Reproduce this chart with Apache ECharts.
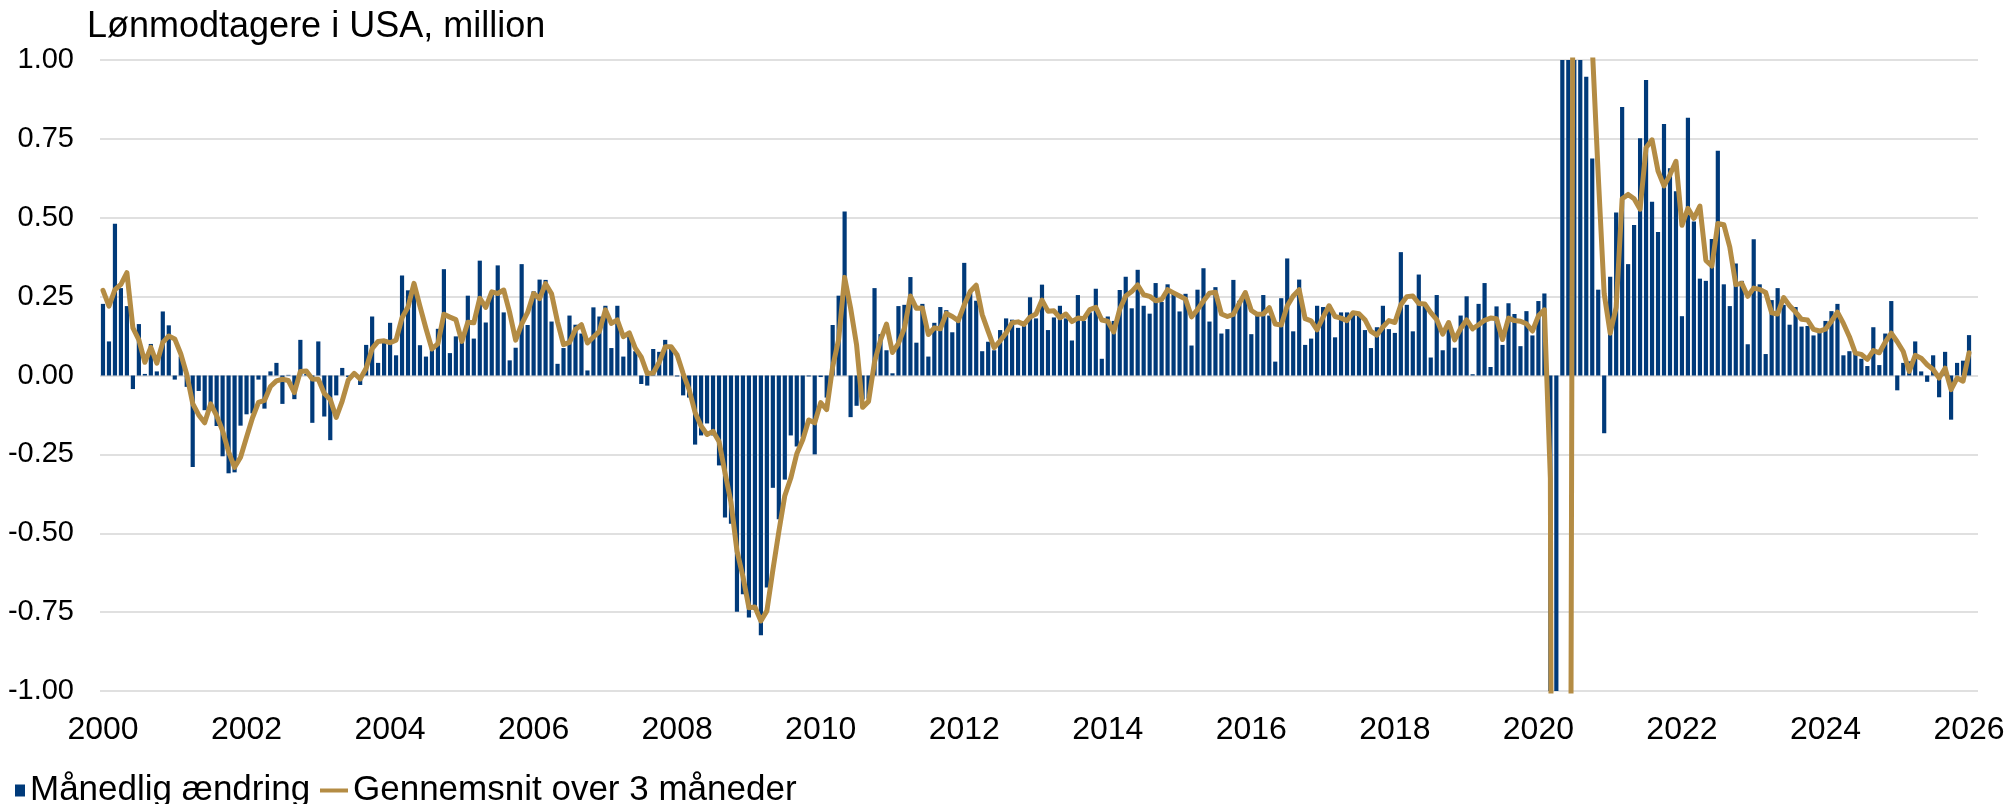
<!DOCTYPE html>
<html>
<head>
<meta charset="utf-8">
<title>Lønmodtagere i USA</title>
<script src="https://cdn.jsdelivr.net/npm/echarts/dist/echarts.min.js"></script>
<style>
  html, body { margin: 0; padding: 0; background: #fff; }
  #chart { width: 2005px; height: 804px; }
</style>
</head>
<body>
<div id="chart"></div>
<script>
// månedlig ændring i antal lønmodtagere, mio. (jan 2000 - jan 2026)
const monthlyChange = [
  0.227, 0.108, 0.481, 0.277, 0.220, -0.043, 0.163, 0.005, 0.100, 0.013, 0.203, 0.159,
  -0.013, 0.060, -0.036, -0.290, -0.049, -0.110, -0.110, -0.160, -0.256, -0.310, -0.307, -0.159,
  -0.123, -0.120, -0.013, -0.105, 0.013, 0.040, -0.090, 0.002, -0.075, 0.113, 0.005, -0.150,
  0.108, -0.130, -0.205, -0.063, 0.024, -0.005, 0.003, -0.030, 0.097, 0.187, 0.040, 0.104,
  0.167, 0.064, 0.317, 0.270, 0.290, 0.096, 0.060, 0.096, 0.148, 0.337, 0.071, 0.124,
  0.130, 0.253, 0.117, 0.364, 0.168, 0.264, 0.349, 0.200, 0.048, 0.088, 0.353, 0.160,
  0.267, 0.304, 0.303, 0.171, 0.037, 0.087, 0.190, 0.161, 0.133, 0.016, 0.216, 0.187,
  0.221, 0.087, 0.221, 0.060, 0.124, 0.077, -0.027, -0.032, 0.084, 0.075, 0.113, 0.084,
  -0.003, -0.063, -0.070, -0.219, -0.190, -0.152, -0.190, -0.285, -0.450, -0.470, -0.749, -0.693,
  -0.767, -0.743, -0.823, -0.672, -0.356, -0.456, -0.330, -0.190, -0.225, -0.196, -0.003, -0.250,
  -0.005, -0.070, 0.160, 0.253, 0.520, -0.132, -0.096, -0.076, -0.073, 0.277, 0.131, 0.080,
  0.007, 0.220, 0.224, 0.312, 0.104, 0.227, 0.060, 0.167, 0.217, 0.207, 0.137, 0.177,
  0.357, 0.264, 0.237, 0.077, 0.107, 0.080, 0.144, 0.181, 0.177, 0.151, 0.157, 0.248,
  0.181, 0.288, 0.144, 0.184, 0.221, 0.181, 0.111, 0.255, 0.173, 0.200, 0.275, 0.053,
  0.187, 0.173, 0.271, 0.313, 0.213, 0.335, 0.221, 0.196, 0.293, 0.233, 0.289, 0.264,
  0.203, 0.259, 0.095, 0.272, 0.340, 0.171, 0.280, 0.133, 0.147, 0.303, 0.237, 0.250,
  0.131, 0.200, 0.255, 0.190, 0.044, 0.245, 0.371, 0.140, 0.304, 0.097, 0.117, 0.221,
  0.217, 0.224, 0.121, 0.200, 0.200, 0.197, 0.190, 0.144, 0.087, 0.153, 0.221, 0.147,
  0.135, 0.391, 0.224, 0.140, 0.320, 0.220, 0.057, 0.255, 0.080, 0.170, 0.088, 0.190,
  0.251, 0.004, 0.227, 0.293, 0.027, 0.219, 0.097, 0.229, 0.195, 0.093, 0.204, 0.127,
  0.236, 0.260, -1.470, -20.500, 2.800, 4.600, 1.700, 1.500, 0.947, 0.688, 0.272, -0.183,
  0.313, 0.517, 0.851, 0.353, 0.477, 0.752, 0.937, 0.551, 0.455, 0.797, 0.657, 0.584,
  0.188, 0.817, 0.488, 0.307, 0.300, 0.433, 0.712, 0.289, 0.220, 0.355, 0.300, 0.099,
  0.432, 0.289, 0.068, 0.239, 0.277, 0.224, 0.161, 0.217, 0.155, 0.157, 0.127, 0.140,
  0.173, 0.204, 0.227, 0.064, 0.077, 0.071, 0.053, 0.030, 0.153, 0.033, 0.133, 0.236,
  -0.047, 0.040, 0.045, 0.108, 0.013, -0.020, 0.064, -0.069, 0.075, -0.140, 0.040, 0.047,
  0.128
]

// gennemsnit over 3 måneder, mio.
const avg3m = [
  0.270, 0.220, 0.272, 0.289, 0.326, 0.151, 0.113, 0.042, 0.089, 0.039, 0.105, 0.125,
  0.116, 0.069, 0.004, -0.089, -0.125, -0.150, -0.090, -0.127, -0.175, -0.242, -0.291, -0.259,
  -0.196, -0.134, -0.085, -0.079, -0.035, -0.017, -0.012, -0.016, -0.054, 0.013, 0.014, -0.011,
  -0.012, -0.057, -0.076, -0.133, -0.081, -0.015, 0.007, -0.011, 0.023, 0.085, 0.108, 0.110,
  0.104, 0.112, 0.183, 0.217, 0.292, 0.219, 0.149, 0.084, 0.101, 0.194, 0.185, 0.177,
  0.108, 0.169, 0.167, 0.245, 0.216, 0.265, 0.260, 0.271, 0.199, 0.112, 0.163, 0.200,
  0.260, 0.244, 0.291, 0.259, 0.170, 0.098, 0.105, 0.146, 0.161, 0.103, 0.122, 0.140,
  0.208, 0.165, 0.176, 0.123, 0.135, 0.087, 0.058, 0.006, 0.008, 0.042, 0.091, 0.091,
  0.065, 0.006, -0.045, -0.117, -0.160, -0.187, -0.177, -0.209, -0.308, -0.402, -0.556, -0.637,
  -0.736, -0.734, -0.778, -0.746, -0.617, -0.495, -0.381, -0.325, -0.248, -0.204, -0.141, -0.150,
  -0.086, -0.108, 0.028, 0.114, 0.311, 0.214, 0.097, -0.101, -0.082, 0.043, 0.112, 0.163,
  0.073, 0.102, 0.150, 0.252, 0.213, 0.214, 0.130, 0.151, 0.148, 0.197, 0.187, 0.174,
  0.224, 0.266, 0.286, 0.193, 0.140, 0.088, 0.110, 0.135, 0.167, 0.170, 0.162, 0.185,
  0.195, 0.239, 0.204, 0.205, 0.183, 0.195, 0.171, 0.182, 0.180, 0.209, 0.216, 0.176,
  0.172, 0.138, 0.210, 0.252, 0.266, 0.287, 0.256, 0.251, 0.237, 0.241, 0.272, 0.262,
  0.252, 0.242, 0.186, 0.209, 0.236, 0.261, 0.264, 0.195, 0.187, 0.194, 0.229, 0.263,
  0.206, 0.194, 0.195, 0.215, 0.163, 0.160, 0.220, 0.252, 0.272, 0.180, 0.173, 0.145,
  0.185, 0.221, 0.187, 0.182, 0.174, 0.199, 0.196, 0.177, 0.140, 0.128, 0.154, 0.174,
  0.168, 0.224, 0.250, 0.252, 0.228, 0.227, 0.199, 0.177, 0.131, 0.168, 0.113, 0.149,
  0.176, 0.148, 0.161, 0.175, 0.182, 0.180, 0.114, 0.182, 0.174, 0.172, 0.164, 0.141,
  0.189, 0.208, -0.325, -7.237, -6.390, -4.367, 3.033, 2.600, 1.382, 1.045, 0.636, 0.259,
  0.134, 0.216, 0.560, 0.574, 0.560, 0.527, 0.722, 0.747, 0.648, 0.601, 0.636, 0.679,
  0.476, 0.530, 0.498, 0.537, 0.365, 0.347, 0.482, 0.478, 0.407, 0.288, 0.292, 0.251,
  0.277, 0.273, 0.263, 0.199, 0.195, 0.247, 0.221, 0.201, 0.178, 0.176, 0.146, 0.141,
  0.147, 0.172, 0.201, 0.165, 0.123, 0.071, 0.067, 0.051, 0.079, 0.072, 0.106, 0.134,
  0.107, 0.076, 0.013, 0.064, 0.055, 0.034, 0.019, -0.008, 0.023, -0.045, -0.008, -0.018,
  0.072
]

const yearTicks = ['2000', '2002', '2004', '2006', '2008', '2010', '2012', '2014',
  '2016', '2018', '2020', '2022', '2024', '2026']

// aksen går en måned længere end data (feb 2026 står tom)
const months = []
for (let y = 2000; months.length < monthlyChange.length + 1; y++) {
  for (let m = 1; m <= 12 && months.length < monthlyChange.length + 1; m++) {
    months.push(y + '-' + String(m).padStart(2, '0'))
  }
}

const font = "'Liberation Sans', Arial, sans-serif"
const blue = '#003a7a'
const gold = '#b48c44'

const chart = echarts.init(document.getElementById('chart'), null, { renderer: 'canvas' })

chart.setOption({
  animation: false,
  backgroundColor: '#fff',
  textStyle: { fontFamily: font, color: '#000' },
  title: {
    text: 'Lønmodtagere i USA, million',
    left: 82,
    top: 4,
    textStyle: { fontFamily: font, fontSize: 36, fontWeight: 'normal', color: '#000' }
  },
  legend: [
    {
      data: ['Månedlig ændring'],
      left: 10,
      top: 768,
      icon: 'rect',
      itemWidth: 10,
      itemHeight: 12,
      textStyle: { fontFamily: font, fontSize: 35, color: '#000' }
    },
    {
      data: ['Gennemsnit over 3 måneder'],
      left: 315,
      top: 768,
      icon: 'rect',
      itemWidth: 28,
      itemHeight: 4,
      textStyle: { fontFamily: font, fontSize: 35, color: '#000' }
    }
  ],
  grid: { left: 100, right: 27, top: 60, bottom: 113, containLabel: false, outerBoundsMode: 'none' },
  xAxis: {
    type: 'category',
    data: months,
    boundaryGap: true,
    axisLine: { show: false, onZero: false },
    axisTick: { show: false },
    splitLine: { show: false },
    axisLabel: {
      interval: (idx, v) => v.endsWith('-01') && yearTicks.includes(v.slice(0, 4)),
      formatter: v => v.slice(0, 4),
      fontFamily: font,
      fontSize: 32,
      color: '#000',
      margin: 23
    }
  },
  yAxis: {
    type: 'value',
    min: -1,
    max: 1,
    interval: 0.25,
    axisLine: { show: false },
    axisTick: { show: false },
    axisLabel: {
      formatter: v => v.toFixed(2),
      fontFamily: font,
      fontSize: 29,
      color: '#000',
      margin: 26
    },
    splitLine: { lineStyle: { color: '#d6d6d6', width: 1.5 } }
  },
  series: [
    {
      name: 'Månedlig ændring',
      type: 'bar',
      data: monthlyChange,
      barCategoryGap: '30%',
      itemStyle: { color: blue },
      clip: true
    },
    {
      name: 'Gennemsnit over 3 måneder',
      type: 'line',
      data: avg3m,
      symbol: 'none',
      showSymbol: false,
      clip: true,
      itemStyle: { color: gold },
      lineStyle: { color: gold, width: 5, cap: 'round', join: 'round' }
    }
  ]
})
</script>
</body>
</html>
